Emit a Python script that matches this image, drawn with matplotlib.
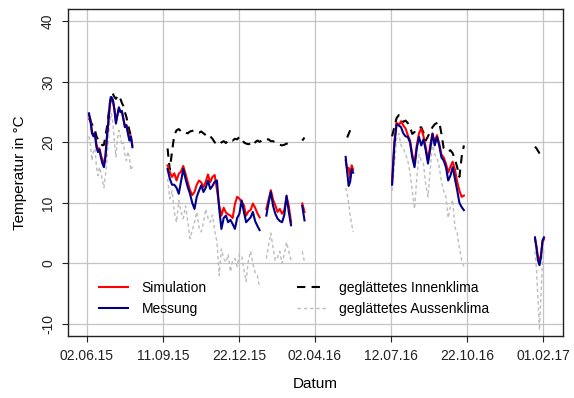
import matplotlib
matplotlib.use("Agg")
import matplotlib.pyplot as plt
import matplotlib.dates as mdates
import numpy as np
import pandas as pd

nan = np.nan

# Abschnitt 1: Sommer 2015 (2-Tages-Schritte)
seg1_start, seg1_step = "2015-06-05", 2
sim1 = [24.5, 23.8, 21.8, 21.3, 21.2, 19.6, 18.9, 19.0, 17.9, 17.0, 16.6, 17.8, 21.0, 23.7, 26.3,
        27.2, 26.9, 25.3, 23.4, 24.6, 25.6, 25.1, 25.0, 23.9, 22.7, 22.9, 21.8, 20.6, 21.0, 19.5]
mess1 = [24.8, 23.5, 21.5, 21.0, 21.5, 19.2, 18.4, 18.8, 17.5, 16.5, 15.9, 17.5, 20.9, 23.5, 26.5,
         27.5, 27.0, 25.5, 23.1, 24.5, 25.8, 25.0, 25.2, 23.8, 22.5, 22.8, 21.5, 20.3, 21.0, 19.2]
innen1 = [24.0, 23.5, 23.0, 22.5, 22.0, 21.0, 20.5, 20.0, 19.8, 19.5, 19.6, 21.0, 22.5, 24.5, 26.5,
          28.3, 28.0, 27.5, 27.2, 27.6, 27.8, 27.2, 26.5, 26.0, 25.0, 24.2, 23.0, 22.0, 21.0, 20.3]
aussen1 = [21.0, 19.5, 17.0, 18.5, 19.0, 16.0, 14.5, 15.9, 15.0, 13.7, 12.5, 14.5, 17.0, 20.5, 23.5,
           24.8, 23.1, 20.0, 17.6, 20.5, 22.0, 21.0, 19.5, 20.0, 18.0, 17.0, 18.5, 17.5, 15.4, 16.0]

# Abschnitt 2: Herbst/Winter 2015/16 (3-Tages-Schritte)
seg2_start, seg2_step = "2015-09-18", 3
sim2 = [16.2, 15.1, 14.3, 14.9, 13.7, 14.8, 15.2, 16.1, 14.8, 13.4, 12.1, 11.3, 11.8, 13.0, 13.7,
        13.4, 12.6, 13.5, 14.7, 13.4, 14.3, 14.6, 12.2, 9.6, 7.9, 9.2, 8.4, 8.1, 7.9, 7.5,
        9.8, 11.0, 10.7, 10.2, 9.6, 7.9, 8.6, 8.8, 9.9, 9.2, 8.3, 7.6, nan, nan, 9.0,
        10.5, 12.1, 10.5, 9.6, 8.5, 9.0, 8.2, 8.8, 11.0, 9.5, 6.8, nan, nan, nan, nan,
        9.9, 8.5]
mess2 = [15.6, 14.0, 13.0, 13.0, 12.5, 11.5, 13.5, 15.6, 14.0, 12.6, 11.5, 10.0, 9.0, 11.0, 12.0,
         12.9, 11.8, 12.5, 13.7, 12.3, 12.8, 13.5, 13.7, 9.0, 5.7, 7.5, 7.9, 6.8, 7.2, 6.5,
         5.7, 7.5, 8.2, 10.4, 8.5, 6.8, 7.2, 7.6, 8.5, 7.0, 6.2, 5.5, nan, nan, 7.9,
         10.0, 11.8, 9.5, 8.2, 7.4, 7.0, 6.8, 8.0, 11.2, 8.5, 6.3, nan, nan, nan, nan,
         9.5, 7.1]
innen2 = [19.0, 15.5, 18.5, 21.2, 22.0, 22.2, 21.8, 21.9, 21.6, 21.5, 21.8, 21.9, 22.0, 21.7, 21.6,
          21.8, 21.5, 21.2, 21.4, 21.0, 20.6, 20.0, 19.8, 19.6, 20.0, 20.2, 19.9, 20.3, 20.5, 20.3,
          20.6, 20.5, 20.9, 20.7, 20.0, 19.8, 19.7, 19.8, 19.5, 20.0, 20.3, 20.1, 20.3, 20.2, 20.5,
          20.5, 20.2, 20.2, 20.0, 19.8, 19.6, 19.5, 19.6, 19.8, 19.8, nan, nan, nan, nan, nan,
          20.3, 20.8]
aussen2 = [14.0, 10.7, 12.0, 8.5, 6.8, 10.4, 8.5, 7.4, 9.5, 7.0, 4.1, 5.5, 6.8, 8.5, 6.0,
           5.2, 6.8, 9.0, 7.5, 6.8, 8.0, 5.5, 3.5, -2.0, 2.4, 0.8, 0.2, 1.5, -1.4, 0.5,
           0.8, -0.5, 1.5, 1.3, -1.0, -3.0, 0.5, 2.0, 0.0, -1.5, -2.0, -4.0, nan, nan, 0.8,
           3.0, 5.0, 2.5, 0.5, 1.0, 2.0, 0.0, 1.5, 3.5, 2.0, 0.5, nan, nan, nan, nan,
           2.0, 0.2]

# Abschnitt 3: Mai 2016 (2-Tages-Schritte)
seg3_start, seg3_step = "2016-05-13", 2
sim3 = [17.0, 15.5, 15.8, 14.0, 16.2, 15.5]
mess3 = [17.6, 15.1, 12.8, 13.5, 15.6, 15.0]
innen3 = [nan, 20.8, 21.4, 22.0, nan, nan]
aussen3 = [12.5, 11.5, 10.0, 8.0, 6.5, 5.2]

# Abschnitt 4: Sommer/Herbst 2016 (3-Tages-Schritte)
seg4_start, seg4_step = "2016-07-14", 3
sim4 = [13.5, 20.0, 23.3, 22.8, 23.5, 22.8, 22.3, 21.2, 20.3, 18.0, 16.5, 19.5, 21.5, 22.3, 21.0,
        19.2, 17.0, 19.5, 21.5, 20.0, 21.2, 19.8, 18.0, 17.5, 16.5, 15.0, 16.0, 16.8, 15.5, 13.5,
        12.0, 11.0, 11.2]
mess4 = [13.0, 19.5, 23.0, 22.8, 22.5, 21.5, 21.0, 20.9, 20.0, 17.5, 15.9, 19.0, 20.9, 19.5, 20.5,
         18.7, 16.5, 19.0, 21.4, 19.5, 20.9, 19.5, 17.5, 17.0, 15.9, 13.7, 14.5, 15.9, 14.0, 12.1,
         10.0, 9.3, 8.8]
innen4 = [21.0, 22.5, 24.0, 24.5, 23.8, 23.4, 23.6, 23.2, 22.5, 21.4, 21.7, 22.3, 22.4, 22.5, 21.6,
          20.3, 21.0, 21.8, 22.5, 23.0, 23.2, 23.4, 21.4, 19.0, 18.6, 18.5, 18.7, 18.2, 17.2, 15.9,
          14.3, 17.6, 19.5]
aussen4 = [12.0, 16.0, 20.5, 21.5, 19.5, 19.0, 18.0, 17.0, 15.0, 12.0, 9.0, 14.0, 18.0, 17.0, 16.5,
           13.0, 11.0, 15.5, 20.0, 18.0, 17.5, 16.0, 13.5, 12.0, 11.0, 7.5, 9.5, 10.5, 6.0, 5.0,
           2.5, 0.5, -0.5]

# Abschnitt 5: Januar 2017 (2-Tages-Schritte)
seg5_start, seg5_step = "2017-01-21", 2
sim5 = [4.0, 2.8, 1.0, 0.5, 1.5, 3.5, 4.0]
mess5 = [4.3, 2.5, 0.5, -0.3, 1.0, 3.8, 4.3]
innen5 = [19.3, 19.0, 18.6, 18.2, 18.0, 18.1, nan]
aussen5 = [2.0, -1.0, -6.0, -11.0, -5.0, 0.0, 2.0]

tick_labels = ["02.06.15", "11.09.15", "22.12.15", "02.04.16", "12.07.16", "22.10.16", "01.02.17"]
y_ticks = [-10, 0, 10, 20, 30, 40]

segments = [
    (seg1_start, seg1_step, sim1, mess1, innen1, aussen1),
    (seg2_start, seg2_step, sim2, mess2, innen2, aussen2),
    (seg3_start, seg3_step, sim3, mess3, innen3, aussen3),
    (seg4_start, seg4_step, sim4, mess4, innen4, aussen4),
    (seg5_start, seg5_step, sim5, mess5, innen5, aussen5),
]

frames = []
for start, step, s, m, i, a in segments:
    idx = pd.date_range(start, periods=len(s), freq=f"{step}D")
    df = pd.DataFrame({"sim": s, "mess": m, "innen": i, "aussen": a}, index=idx)
    # NaN-Zeile als Luecke zwischen den Abschnitten
    gap = pd.DataFrame({c: [nan] for c in df.columns}, index=[idx[-1] + pd.Timedelta(days=1)])
    frames.extend([df, gap])
data = pd.concat(frames)

plt.rcParams["font.family"] = ["Liberation Sans", "DejaVu Sans"]

fig = plt.figure(figsize=(5.74, 3.98), dpi=100)
ax = fig.add_axes([0.1185, 0.1558, 0.8618, 0.8209])

ax.plot(data.index, data["aussen"], color="#BDBDBD", lw=1.0, dashes=(2.5, 2),
        label="geglättetes Aussenklima", zorder=2)
ax.plot(data.index, data["innen"], color="black", lw=1.5, dashes=(4, 3),
        label="geglättetes Innenklima", zorder=3)
ax.plot(data.index, data["sim"], color="#FF0000", lw=1.5, label="Simulation", zorder=4)
ax.plot(data.index, data["mess"], color="#00008B", lw=1.5, label="Messung", zorder=5)

t0 = mdates.date2num(pd.Timestamp("2015-06-02"))
t1 = mdates.date2num(pd.Timestamp("2017-02-01"))
ax.set_xticks(np.linspace(t0, t1, len(tick_labels)))
ax.set_xticklabels(tick_labels)
ax.set_xlim(t0 - 25, t0 + 636)

ax.set_yticks(y_ticks)
ax.set_yticklabels([str(v) for v in y_ticks], rotation=90, va="center")
ax.set_ylim(-12, 42)

ax.grid(True, color="#C4C4C4", lw=0.9)
ax.set_axisbelow(True)
for sp in ax.spines.values():
    sp.set_linewidth(1.0)
    sp.set_color("#222222")
ax.tick_params(direction="out", length=4.3, width=0.8, pad=5, labelsize=10, colors="#222222")

ax.set_xlabel("Datum", fontsize=11, labelpad=10)
ax.set_ylabel("Temperatur in °C", fontsize=11, labelpad=10)

handles, labels = ax.get_legend_handles_labels()
order = [2, 3, 1, 0]
ax.legend([handles[k] for k in order], [labels[k] for k in order], ncol=2, frameon=False,
          loc="upper left", bbox_to_anchor=(0.0627, 0.168), borderpad=0, borderaxespad=0,
          handlelength=2.1, handletextpad=0.95, columnspacing=6.5, labelspacing=0.5,
          fontsize=10)

fig.savefig("out.png", dpi=100)
